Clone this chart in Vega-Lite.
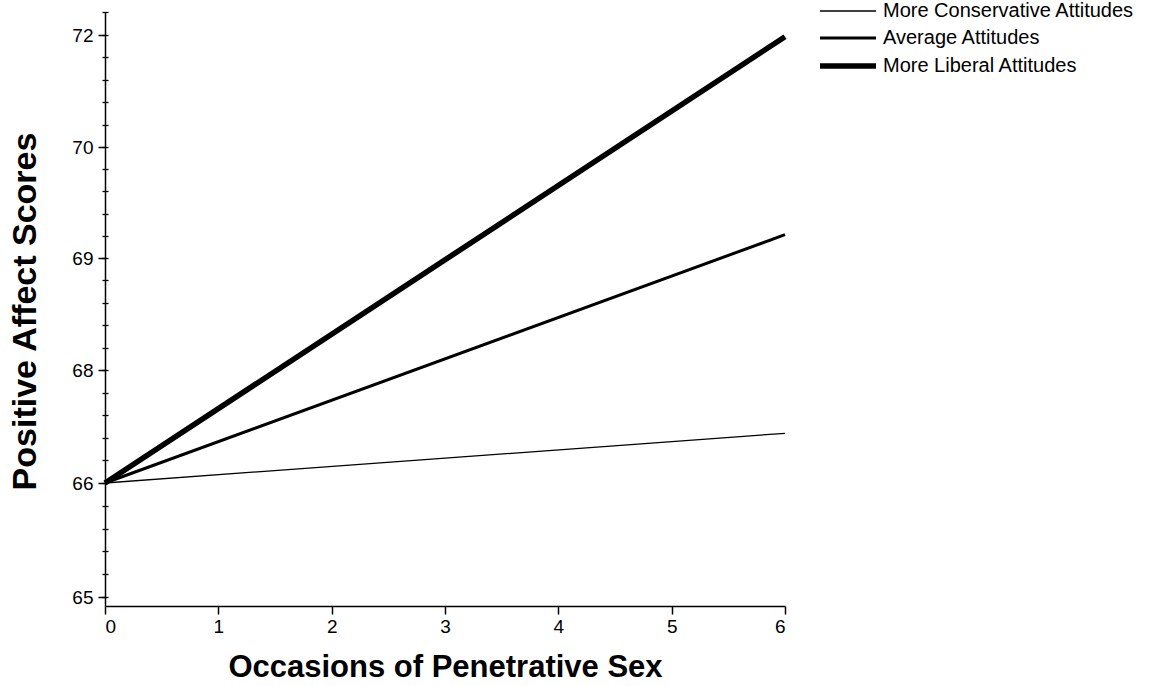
{
  "$schema": "https://vega.github.io/schema/vega-lite/v6.json",
  "width": 680,
  "height": 594,
  "autosize": {"type": "none"},
  "padding": {"left": 105, "top": 12, "right": 386, "bottom": 80},
  "background": "white",
  "config": {
    "view": {"stroke": null},
    "font": "Liberation Sans",
    "axis": {"grid": false, "domainColor": "black", "tickColor": "black", "labelColor": "black", "titleColor": "black", "domainWidth": 1.5, "tickWidth": 1.5, "labelFont": "Liberation Sans", "titleFont": "Liberation Sans"}
  },
  "data": {
    "values": [
      {"occasions": 0, "score": 66, "group": "More Conservative Attitudes"},
      {"occasions": 6, "score": 66.88, "group": "More Conservative Attitudes"},
      {"occasions": 0, "score": 66, "group": "Average Attitudes"},
      {"occasions": 6, "score": 69.21, "group": "Average Attitudes"},
      {"occasions": 0, "score": 66, "group": "More Liberal Attitudes"},
      {"occasions": 6, "score": 71.97, "group": "More Liberal Attitudes"}
    ]
  },
  "resolve": {"axis": {"y": "independent"}},
  "layer": [
    {
      "mark": {"type": "line", "color": "black", "strokeCap": "butt"},
      "encoding": {
        "x": {
          "field": "occasions", "type": "quantitative",
          "scale": {"domain": [0, 6], "nice": false, "zero": false},
          "axis": {"values": [0, 1, 2, 3, 4, 5, 6], "format": "d", "tickSize": 8, "labelPadding": 3, "labelFontSize": 19, "title": "Occasions of Penetrative Sex", "titleFontSize": 31, "titleFontWeight": "bold", "titleBaseline": "alphabetic", "titleY": 70}
        },
        "y": {
          "field": "score", "type": "quantitative",
          "scale": {"type": "linear", "domain": [64.92, 65, 66, 68, 69, 70, 72, 72.4], "range": [594, 585, 471, 358, 246, 135, 23, 0], "nice": false, "zero": false},
          "axis": {"orient": "left", "values": [65, 66, 68, 69, 70, 72], "tickSize": 7, "labelPadding": 5, "labelFontSize": 19, "title": "Positive Affect Scores", "titleFontSize": 34, "titleFontWeight": "bold", "titleAngle": -90, "titleBaseline": "alphabetic", "titleX": -70, "titleY": 299, "titleAlign": "center"}
        },
        "strokeWidth": {
          "field": "group", "type": "nominal",
          "scale": {"type": "ordinal", "domain": ["More Conservative Attitudes", "Average Attitudes", "More Liberal Attitudes"], "range": [1.3, 3, 5.5]},
          "legend": {"orient": "none", "legendX": 733, "legendY": -11, "title": null, "symbolType": "M-14,0H14", "symbolSize": 16, "symbolStrokeColor": "black", "labelFontSize": 20, "labelFont": "Liberation Sans", "labelColor": "black", "labelOffset": 25, "labelLimit": 0, "rowPadding": 7}
        },
        "detail": {"field": "group"}
      }
    },
    {
      "mark": {"type": "line", "strokeOpacity": 0},
      "encoding": {
        "x": {"field": "occasions", "type": "quantitative"},
        "y": {
          "field": "score", "type": "quantitative",
          "axis": {"orient": "left", "offset": -3, "domain": false, "labels": false, "title": null, "tickSize": 6, "tickWidth": 1.3, "values": [65, 65.2, 65.4, 65.6, 65.8, 66, 66.4, 66.8, 67.2, 67.6, 68, 68.2, 68.4, 68.6, 68.8, 69, 69.2, 69.4, 69.6, 69.8, 70, 70.4, 70.8, 71.2, 71.6, 72, 72.4]}
        },
        "detail": {"field": "group"}
      }
    }
  ]
}
